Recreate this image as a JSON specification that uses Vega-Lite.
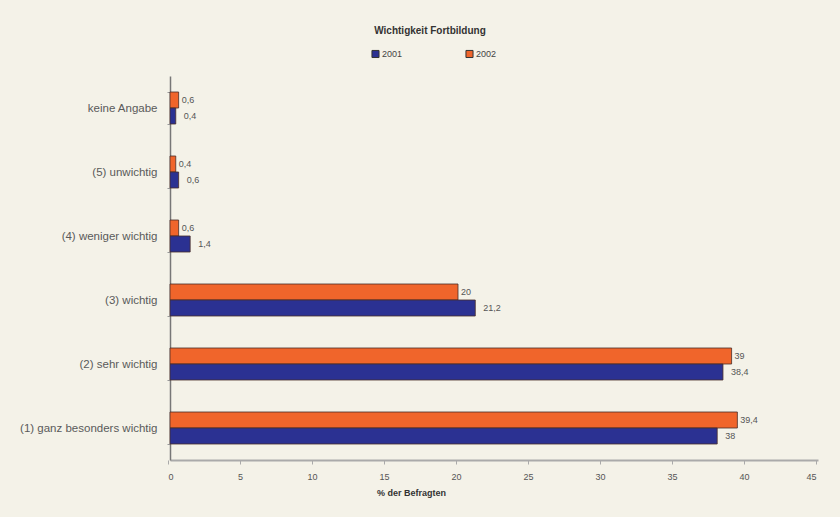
{
  "$schema": "https://vega.github.io/schema/vega-lite/v6.json",
  "width": 648,
  "height": 384,
  "autosize": {"type": "none"},
  "padding": {"left": 170, "top": 76, "right": 22, "bottom": 57},
  "background": "#F4F2E8",
  "config": {
    "font": "Liberation Sans",
    "view": {"stroke": null},
    "locale": {
      "number": {"decimal": ",", "thousands": ".", "grouping": [3], "currency": ["", " €"]}
    }
  },
  "title": {
    "text": "Wichtigkeit Fortbildung",
    "fontSize": 10,
    "fontWeight": "bold",
    "color": "#333333",
    "anchor": "middle",
    "dx": -64,
    "offset": 13
  },
  "data": {
    "values": [
      {"kategorie": "keine Angabe", "jahr": "2002", "anteil": 0.6},
      {"kategorie": "keine Angabe", "jahr": "2001", "anteil": 0.4},
      {"kategorie": "(5) unwichtig", "jahr": "2002", "anteil": 0.4},
      {"kategorie": "(5) unwichtig", "jahr": "2001", "anteil": 0.6},
      {"kategorie": "(4) weniger wichtig", "jahr": "2002", "anteil": 0.6},
      {"kategorie": "(4) weniger wichtig", "jahr": "2001", "anteil": 1.4},
      {"kategorie": "(3) wichtig", "jahr": "2002", "anteil": 20},
      {"kategorie": "(3) wichtig", "jahr": "2001", "anteil": 21.2},
      {"kategorie": "(2) sehr wichtig", "jahr": "2002", "anteil": 39},
      {"kategorie": "(2) sehr wichtig", "jahr": "2001", "anteil": 38.4},
      {"kategorie": "(1) ganz besonders wichtig", "jahr": "2002", "anteil": 39.4},
      {"kategorie": "(1) ganz besonders wichtig", "jahr": "2001", "anteil": 38}
    ]
  },
  "encoding": {
    "y": {
      "field": "kategorie",
      "type": "nominal",
      "sort": ["keine Angabe", "(5) unwichtig", "(4) weniger wichtig", "(3) wichtig", "(2) sehr wichtig", "(1) ganz besonders wichtig"],
      "scale": {"paddingInner": 0.5, "paddingOuter": 0.25},
      "axis": {
        "title": null,
        "labelFont": "Liberation Sans",
        "labelFontSize": 11.5,
        "labelColor": "#5A5A5A",
        "labelPadding": 10,
        "domainColor": "#777777",
        "domainWidth": 1.5,
        "tickColor": "#999999",
        "tickSize": 3,
        "tickBand": "extent"
      }
    },
    "yOffset": {
      "field": "jahr",
      "type": "nominal",
      "scale": {"domain": ["2002", "2001"], "paddingInner": 0, "paddingOuter": 0}
    },
    "x": {
      "field": "anteil",
      "type": "quantitative",
      "scale": {"domain": [0, 45], "nice": false},
      "axis": {
        "values": [0, 5, 10, 15, 20, 25, 30, 35, 40, 45],
        "grid": false,
        "title": "% der Befragten",
        "titleFont": "Liberation Sans",
        "titleFontSize": 9,
        "titleFontWeight": "bold",
        "titleColor": "#333333",
        "titleX": 241,
        "titleY": 28,
        "titleBaseline": "top",
        "labelFontSize": 9,
        "labelColor": "#555555",
        "labelPadding": 8,
        "domainColor": "#AAAAAA",
        "domainWidth": 2,
        "tickColor": "#AAAAAA",
        "tickSize": 4,
        "tickOffset": -2
      }
    }
  },
  "layer": [
    {
      "mark": {"type": "bar", "stroke": "#4A2E28", "strokeWidth": 1, "strokeOpacity": 0.8},
      "encoding": {
        "color": {
          "field": "jahr",
          "type": "nominal",
          "scale": {"domain": ["2001", "2002"], "range": ["#2B3192", "#F0652B"]},
          "legend": {
            "title": null,
            "orient": "none",
            "direction": "horizontal",
            "legendX": 201,
            "legendY": -27,
            "symbolType": "square",
            "symbolSize": 50,
            "symbolStrokeColor": "#333333",
            "symbolStrokeWidth": 1,
            "labelFontSize": 9,
            "labelColor": "#444444",
            "labelOffset": 2,
            "columnPadding": 60
          }
        }
      }
    },
    {
      "transform": [{"filter": "datum.jahr === '2002'"}],
      "mark": {"type": "text", "align": "left", "baseline": "middle", "dx": 3, "fontSize": 9, "color": "#555555"},
      "encoding": {"text": {"field": "anteil", "type": "quantitative", "format": "~g"}}
    },
    {
      "transform": [{"filter": "datum.jahr === '2001'"}],
      "mark": {"type": "text", "align": "left", "baseline": "middle", "dx": 8, "fontSize": 9, "color": "#555555"},
      "encoding": {"text": {"field": "anteil", "type": "quantitative", "format": "~g"}}
    }
  ]
}
